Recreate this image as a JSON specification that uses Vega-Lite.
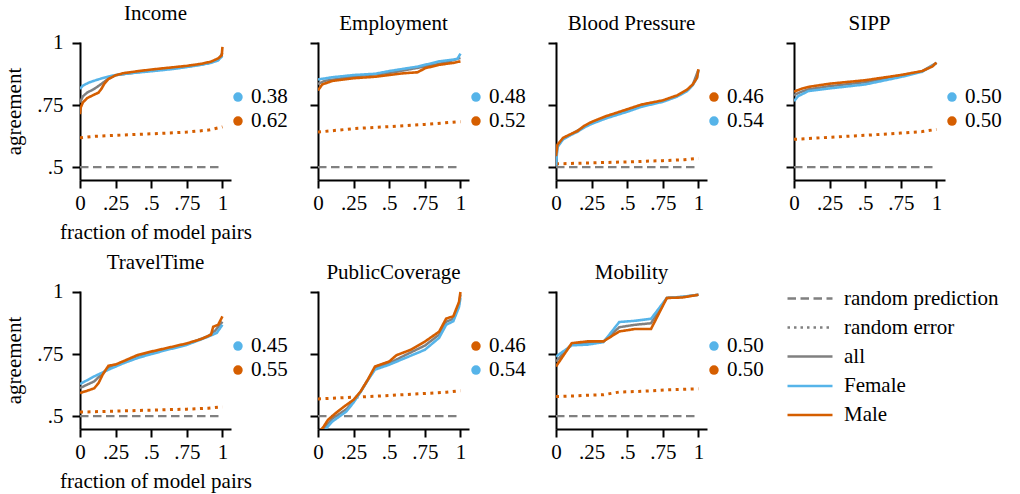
{
  "$schema": "https://vega.github.io/schema/vega-lite/v6.json",
  "background": "white",
  "padding": {"left": 3, "top": 2, "right": 2, "bottom": 2},
  "config": {
    "font": "Liberation Serif",
    "view": {"stroke": null},
    "axis": {
      "grid": false,
      "labelOverlap": false,
      "labelBound": false,
      "domainColor": "#000",
      "domainWidth": 2,
      "tickColor": "#000",
      "tickWidth": 2,
      "tickSize": 8,
      "labelFont": "Liberation Serif",
      "labelFontSize": 21,
      "labelColor": "#000",
      "titleFont": "Liberation Serif",
      "titleFontSize": 21,
      "titleFontWeight": "normal",
      "titleColor": "#000"
    },
    "axisX": {"labelOverlap": false, "labelFlush": false},
    "axisQuantitative": {"labelOverlap": false},
    "title": {"font": "Liberation Serif", "fontSize": 21, "fontWeight": "normal", "color": "#000", "offset": 8, "frame": "group", "anchor": "middle"},
    "legend": {"labelFont": "Liberation Serif", "labelFontSize": 21, "labelColor": "#000", "labelLimit": 400},
    "text": {"font": "Liberation Serif", "fontSize": 21, "color": "#000"}
  },
  "datasets": {
    "curves": [
      {"panel": "Income", "series": "random prediction", "x": 0, "y": 0.5},
      {"panel": "Income", "series": "random prediction", "x": 1, "y": 0.5},
      {"panel": "Income", "series": "all", "x": 0, "y": 0.76},
      {"panel": "Income", "series": "all", "x": 0.02, "y": 0.785},
      {"panel": "Income", "series": "all", "x": 0.05, "y": 0.8},
      {"panel": "Income", "series": "all", "x": 0.1, "y": 0.815},
      {"panel": "Income", "series": "all", "x": 0.15, "y": 0.835},
      {"panel": "Income", "series": "all", "x": 0.2, "y": 0.857},
      {"panel": "Income", "series": "all", "x": 0.25, "y": 0.87},
      {"panel": "Income", "series": "all", "x": 0.5, "y": 0.89},
      {"panel": "Income", "series": "all", "x": 0.75, "y": 0.905},
      {"panel": "Income", "series": "all", "x": 0.9, "y": 0.918},
      {"panel": "Income", "series": "all", "x": 0.97, "y": 0.932},
      {"panel": "Income", "series": "all", "x": 1, "y": 0.96},
      {"panel": "Income", "series": "Female", "x": 0, "y": 0.815},
      {"panel": "Income", "series": "Female", "x": 0.02, "y": 0.828},
      {"panel": "Income", "series": "Female", "x": 0.06, "y": 0.84},
      {"panel": "Income", "series": "Female", "x": 0.1, "y": 0.848},
      {"panel": "Income", "series": "Female", "x": 0.15, "y": 0.857},
      {"panel": "Income", "series": "Female", "x": 0.2, "y": 0.865},
      {"panel": "Income", "series": "Female", "x": 0.25, "y": 0.871},
      {"panel": "Income", "series": "Female", "x": 0.35, "y": 0.878},
      {"panel": "Income", "series": "Female", "x": 0.5, "y": 0.886},
      {"panel": "Income", "series": "Female", "x": 0.65, "y": 0.895},
      {"panel": "Income", "series": "Female", "x": 0.75, "y": 0.903},
      {"panel": "Income", "series": "Female", "x": 0.85, "y": 0.912},
      {"panel": "Income", "series": "Female", "x": 0.92, "y": 0.92},
      {"panel": "Income", "series": "Female", "x": 0.97, "y": 0.93},
      {"panel": "Income", "series": "Female", "x": 1, "y": 0.948},
      {"panel": "Income", "series": "Male", "x": 0, "y": 0.713},
      {"panel": "Income", "series": "Male", "x": 0.005, "y": 0.74},
      {"panel": "Income", "series": "Male", "x": 0.02, "y": 0.76},
      {"panel": "Income", "series": "Male", "x": 0.05, "y": 0.778},
      {"panel": "Income", "series": "Male", "x": 0.1, "y": 0.792},
      {"panel": "Income", "series": "Male", "x": 0.13, "y": 0.8},
      {"panel": "Income", "series": "Male", "x": 0.15, "y": 0.815},
      {"panel": "Income", "series": "Male", "x": 0.17, "y": 0.835},
      {"panel": "Income", "series": "Male", "x": 0.2, "y": 0.855},
      {"panel": "Income", "series": "Male", "x": 0.25, "y": 0.87},
      {"panel": "Income", "series": "Male", "x": 0.3, "y": 0.878},
      {"panel": "Income", "series": "Male", "x": 0.4, "y": 0.886},
      {"panel": "Income", "series": "Male", "x": 0.5, "y": 0.893},
      {"panel": "Income", "series": "Male", "x": 0.6, "y": 0.899},
      {"panel": "Income", "series": "Male", "x": 0.75, "y": 0.908},
      {"panel": "Income", "series": "Male", "x": 0.85, "y": 0.916},
      {"panel": "Income", "series": "Male", "x": 0.92, "y": 0.925},
      {"panel": "Income", "series": "Male", "x": 0.97, "y": 0.938},
      {"panel": "Income", "series": "Male", "x": 0.995, "y": 0.95},
      {"panel": "Income", "series": "Male", "x": 1, "y": 0.984},
      {"panel": "Income", "series": "random error", "x": 0, "y": 0.618},
      {"panel": "Income", "series": "random error", "x": 0.1, "y": 0.624},
      {"panel": "Income", "series": "random error", "x": 0.25, "y": 0.628},
      {"panel": "Income", "series": "random error", "x": 0.5, "y": 0.634},
      {"panel": "Income", "series": "random error", "x": 0.75, "y": 0.641},
      {"panel": "Income", "series": "random error", "x": 0.9, "y": 0.649},
      {"panel": "Income", "series": "random error", "x": 1, "y": 0.662},

      {"panel": "Employment", "series": "random prediction", "x": 0, "y": 0.5},
      {"panel": "Employment", "series": "random prediction", "x": 1, "y": 0.5},
      {"panel": "Employment", "series": "all", "x": 0, "y": 0.835},
      {"panel": "Employment", "series": "all", "x": 0.05, "y": 0.848},
      {"panel": "Employment", "series": "all", "x": 0.25, "y": 0.865},
      {"panel": "Employment", "series": "all", "x": 0.5, "y": 0.879},
      {"panel": "Employment", "series": "all", "x": 0.75, "y": 0.905},
      {"panel": "Employment", "series": "all", "x": 0.9, "y": 0.922},
      {"panel": "Employment", "series": "all", "x": 1, "y": 0.94},
      {"panel": "Employment", "series": "Female", "x": 0, "y": 0.853},
      {"panel": "Employment", "series": "Female", "x": 0.1, "y": 0.862},
      {"panel": "Employment", "series": "Female", "x": 0.25, "y": 0.871},
      {"panel": "Employment", "series": "Female", "x": 0.4, "y": 0.876},
      {"panel": "Employment", "series": "Female", "x": 0.5, "y": 0.887},
      {"panel": "Employment", "series": "Female", "x": 0.6, "y": 0.896},
      {"panel": "Employment", "series": "Female", "x": 0.7, "y": 0.905},
      {"panel": "Employment", "series": "Female", "x": 0.75, "y": 0.912},
      {"panel": "Employment", "series": "Female", "x": 0.85, "y": 0.926},
      {"panel": "Employment", "series": "Female", "x": 0.95, "y": 0.933},
      {"panel": "Employment", "series": "Female", "x": 0.98, "y": 0.937},
      {"panel": "Employment", "series": "Female", "x": 1, "y": 0.957},
      {"panel": "Employment", "series": "Male", "x": 0, "y": 0.809},
      {"panel": "Employment", "series": "Male", "x": 0.03, "y": 0.833},
      {"panel": "Employment", "series": "Male", "x": 0.1, "y": 0.847},
      {"panel": "Employment", "series": "Male", "x": 0.25, "y": 0.858},
      {"panel": "Employment", "series": "Male", "x": 0.4, "y": 0.864},
      {"panel": "Employment", "series": "Male", "x": 0.5, "y": 0.871},
      {"panel": "Employment", "series": "Male", "x": 0.6, "y": 0.878},
      {"panel": "Employment", "series": "Male", "x": 0.7, "y": 0.882},
      {"panel": "Employment", "series": "Male", "x": 0.75, "y": 0.898},
      {"panel": "Employment", "series": "Male", "x": 0.85, "y": 0.912},
      {"panel": "Employment", "series": "Male", "x": 0.95, "y": 0.92},
      {"panel": "Employment", "series": "Male", "x": 1, "y": 0.926},
      {"panel": "Employment", "series": "random error", "x": 0, "y": 0.641},
      {"panel": "Employment", "series": "random error", "x": 0.25, "y": 0.655},
      {"panel": "Employment", "series": "random error", "x": 0.5, "y": 0.663},
      {"panel": "Employment", "series": "random error", "x": 0.75, "y": 0.672},
      {"panel": "Employment", "series": "random error", "x": 1, "y": 0.683},

      {"panel": "Blood Pressure", "series": "random prediction", "x": 0, "y": 0.5},
      {"panel": "Blood Pressure", "series": "random prediction", "x": 1, "y": 0.5},
      {"panel": "Blood Pressure", "series": "all", "x": 0, "y": 0.52},
      {"panel": "Blood Pressure", "series": "all", "x": 0.01, "y": 0.585},
      {"panel": "Blood Pressure", "series": "all", "x": 0.05, "y": 0.615},
      {"panel": "Blood Pressure", "series": "all", "x": 0.1, "y": 0.63},
      {"panel": "Blood Pressure", "series": "all", "x": 0.2, "y": 0.663},
      {"panel": "Blood Pressure", "series": "all", "x": 0.25, "y": 0.678},
      {"panel": "Blood Pressure", "series": "all", "x": 0.35, "y": 0.7},
      {"panel": "Blood Pressure", "series": "all", "x": 0.5, "y": 0.728},
      {"panel": "Blood Pressure", "series": "all", "x": 0.6, "y": 0.748},
      {"panel": "Blood Pressure", "series": "all", "x": 0.75, "y": 0.766},
      {"panel": "Blood Pressure", "series": "all", "x": 0.85, "y": 0.786},
      {"panel": "Blood Pressure", "series": "all", "x": 0.92, "y": 0.809},
      {"panel": "Blood Pressure", "series": "all", "x": 0.96, "y": 0.832},
      {"panel": "Blood Pressure", "series": "all", "x": 1, "y": 0.892},
      {"panel": "Blood Pressure", "series": "Female", "x": 0, "y": 0.505},
      {"panel": "Blood Pressure", "series": "Female", "x": 0.01, "y": 0.58},
      {"panel": "Blood Pressure", "series": "Female", "x": 0.05, "y": 0.612},
      {"panel": "Blood Pressure", "series": "Female", "x": 0.1, "y": 0.628},
      {"panel": "Blood Pressure", "series": "Female", "x": 0.15, "y": 0.642},
      {"panel": "Blood Pressure", "series": "Female", "x": 0.2, "y": 0.66},
      {"panel": "Blood Pressure", "series": "Female", "x": 0.25, "y": 0.674},
      {"panel": "Blood Pressure", "series": "Female", "x": 0.35, "y": 0.696},
      {"panel": "Blood Pressure", "series": "Female", "x": 0.5, "y": 0.723},
      {"panel": "Blood Pressure", "series": "Female", "x": 0.6, "y": 0.743},
      {"panel": "Blood Pressure", "series": "Female", "x": 0.75, "y": 0.763},
      {"panel": "Blood Pressure", "series": "Female", "x": 0.85, "y": 0.784},
      {"panel": "Blood Pressure", "series": "Female", "x": 0.92, "y": 0.806},
      {"panel": "Blood Pressure", "series": "Female", "x": 0.96, "y": 0.83},
      {"panel": "Blood Pressure", "series": "Female", "x": 0.99, "y": 0.86},
      {"panel": "Blood Pressure", "series": "Female", "x": 1, "y": 0.89},
      {"panel": "Blood Pressure", "series": "Male", "x": 0, "y": 0.544},
      {"panel": "Blood Pressure", "series": "Male", "x": 0.01, "y": 0.59},
      {"panel": "Blood Pressure", "series": "Male", "x": 0.05, "y": 0.618},
      {"panel": "Blood Pressure", "series": "Male", "x": 0.1, "y": 0.632},
      {"panel": "Blood Pressure", "series": "Male", "x": 0.15, "y": 0.645},
      {"panel": "Blood Pressure", "series": "Male", "x": 0.2, "y": 0.667},
      {"panel": "Blood Pressure", "series": "Male", "x": 0.25, "y": 0.682},
      {"panel": "Blood Pressure", "series": "Male", "x": 0.35, "y": 0.705},
      {"panel": "Blood Pressure", "series": "Male", "x": 0.5, "y": 0.733},
      {"panel": "Blood Pressure", "series": "Male", "x": 0.6, "y": 0.752},
      {"panel": "Blood Pressure", "series": "Male", "x": 0.75, "y": 0.769},
      {"panel": "Blood Pressure", "series": "Male", "x": 0.85, "y": 0.789},
      {"panel": "Blood Pressure", "series": "Male", "x": 0.92, "y": 0.812},
      {"panel": "Blood Pressure", "series": "Male", "x": 0.96, "y": 0.833},
      {"panel": "Blood Pressure", "series": "Male", "x": 0.99, "y": 0.86},
      {"panel": "Blood Pressure", "series": "Male", "x": 1, "y": 0.894},
      {"panel": "Blood Pressure", "series": "random error", "x": 0, "y": 0.513},
      {"panel": "Blood Pressure", "series": "random error", "x": 0.25, "y": 0.517},
      {"panel": "Blood Pressure", "series": "random error", "x": 0.5, "y": 0.521},
      {"panel": "Blood Pressure", "series": "random error", "x": 0.75, "y": 0.526},
      {"panel": "Blood Pressure", "series": "random error", "x": 0.9, "y": 0.53},
      {"panel": "Blood Pressure", "series": "random error", "x": 1, "y": 0.535},

      {"panel": "SIPP", "series": "random prediction", "x": 0, "y": 0.5},
      {"panel": "SIPP", "series": "random prediction", "x": 1, "y": 0.5},
      {"panel": "SIPP", "series": "all", "x": 0, "y": 0.79},
      {"panel": "SIPP", "series": "all", "x": 0.05, "y": 0.803},
      {"panel": "SIPP", "series": "all", "x": 0.1, "y": 0.813},
      {"panel": "SIPP", "series": "all", "x": 0.25, "y": 0.826},
      {"panel": "SIPP", "series": "all", "x": 0.5, "y": 0.842},
      {"panel": "SIPP", "series": "all", "x": 0.75, "y": 0.867},
      {"panel": "SIPP", "series": "all", "x": 0.9, "y": 0.886},
      {"panel": "SIPP", "series": "all", "x": 1, "y": 0.92},
      {"panel": "SIPP", "series": "Female", "x": 0, "y": 0.766},
      {"panel": "SIPP", "series": "Female", "x": 0.03, "y": 0.786},
      {"panel": "SIPP", "series": "Female", "x": 0.1, "y": 0.806},
      {"panel": "SIPP", "series": "Female", "x": 0.25, "y": 0.817},
      {"panel": "SIPP", "series": "Female", "x": 0.5, "y": 0.833},
      {"panel": "SIPP", "series": "Female", "x": 0.6, "y": 0.845},
      {"panel": "SIPP", "series": "Female", "x": 0.75, "y": 0.863},
      {"panel": "SIPP", "series": "Female", "x": 0.9, "y": 0.884},
      {"panel": "SIPP", "series": "Female", "x": 0.98, "y": 0.911},
      {"panel": "SIPP", "series": "Female", "x": 1, "y": 0.92},
      {"panel": "SIPP", "series": "Male", "x": 0, "y": 0.804},
      {"panel": "SIPP", "series": "Male", "x": 0.05, "y": 0.815},
      {"panel": "SIPP", "series": "Male", "x": 0.1, "y": 0.823},
      {"panel": "SIPP", "series": "Male", "x": 0.25, "y": 0.836},
      {"panel": "SIPP", "series": "Male", "x": 0.5, "y": 0.85},
      {"panel": "SIPP", "series": "Male", "x": 0.75, "y": 0.871},
      {"panel": "SIPP", "series": "Male", "x": 0.9, "y": 0.887},
      {"panel": "SIPP", "series": "Male", "x": 0.97, "y": 0.905},
      {"panel": "SIPP", "series": "Male", "x": 1, "y": 0.921},
      {"panel": "SIPP", "series": "random error", "x": 0, "y": 0.612},
      {"panel": "SIPP", "series": "random error", "x": 0.25, "y": 0.62},
      {"panel": "SIPP", "series": "random error", "x": 0.5, "y": 0.628},
      {"panel": "SIPP", "series": "random error", "x": 0.75, "y": 0.637},
      {"panel": "SIPP", "series": "random error", "x": 0.9, "y": 0.643},
      {"panel": "SIPP", "series": "random error", "x": 1, "y": 0.652},

      {"panel": "TravelTime", "series": "random prediction", "x": 0, "y": 0.5},
      {"panel": "TravelTime", "series": "random prediction", "x": 1, "y": 0.5},
      {"panel": "TravelTime", "series": "all", "x": 0, "y": 0.613},
      {"panel": "TravelTime", "series": "all", "x": 0.1, "y": 0.64},
      {"panel": "TravelTime", "series": "all", "x": 0.2, "y": 0.695},
      {"panel": "TravelTime", "series": "all", "x": 0.3, "y": 0.716},
      {"panel": "TravelTime", "series": "all", "x": 0.5, "y": 0.755},
      {"panel": "TravelTime", "series": "all", "x": 0.75, "y": 0.79},
      {"panel": "TravelTime", "series": "all", "x": 0.9, "y": 0.822},
      {"panel": "TravelTime", "series": "all", "x": 0.95, "y": 0.845},
      {"panel": "TravelTime", "series": "all", "x": 1, "y": 0.88},
      {"panel": "TravelTime", "series": "Female", "x": 0, "y": 0.629},
      {"panel": "TravelTime", "series": "Female", "x": 0.1, "y": 0.66},
      {"panel": "TravelTime", "series": "Female", "x": 0.2, "y": 0.687},
      {"panel": "TravelTime", "series": "Female", "x": 0.3, "y": 0.712},
      {"panel": "TravelTime", "series": "Female", "x": 0.4, "y": 0.733},
      {"panel": "TravelTime", "series": "Female", "x": 0.5, "y": 0.75},
      {"panel": "TravelTime", "series": "Female", "x": 0.6, "y": 0.765},
      {"panel": "TravelTime", "series": "Female", "x": 0.75, "y": 0.787},
      {"panel": "TravelTime", "series": "Female", "x": 0.9, "y": 0.82},
      {"panel": "TravelTime", "series": "Female", "x": 0.96, "y": 0.835},
      {"panel": "TravelTime", "series": "Female", "x": 1, "y": 0.868},
      {"panel": "TravelTime", "series": "Male", "x": 0, "y": 0.593},
      {"panel": "TravelTime", "series": "Male", "x": 0.05, "y": 0.602},
      {"panel": "TravelTime", "series": "Male", "x": 0.1, "y": 0.612},
      {"panel": "TravelTime", "series": "Male", "x": 0.13, "y": 0.633},
      {"panel": "TravelTime", "series": "Male", "x": 0.16, "y": 0.668},
      {"panel": "TravelTime", "series": "Male", "x": 0.2, "y": 0.703},
      {"panel": "TravelTime", "series": "Male", "x": 0.25, "y": 0.708},
      {"panel": "TravelTime", "series": "Male", "x": 0.3, "y": 0.72},
      {"panel": "TravelTime", "series": "Male", "x": 0.4, "y": 0.745},
      {"panel": "TravelTime", "series": "Male", "x": 0.5, "y": 0.76},
      {"panel": "TravelTime", "series": "Male", "x": 0.6, "y": 0.773},
      {"panel": "TravelTime", "series": "Male", "x": 0.75, "y": 0.793},
      {"panel": "TravelTime", "series": "Male", "x": 0.85, "y": 0.81},
      {"panel": "TravelTime", "series": "Male", "x": 0.92, "y": 0.828},
      {"panel": "TravelTime", "series": "Male", "x": 0.935, "y": 0.86},
      {"panel": "TravelTime", "series": "Male", "x": 0.97, "y": 0.868},
      {"panel": "TravelTime", "series": "Male", "x": 1, "y": 0.902},
      {"panel": "TravelTime", "series": "random error", "x": 0, "y": 0.516},
      {"panel": "TravelTime", "series": "random error", "x": 0.25, "y": 0.52},
      {"panel": "TravelTime", "series": "random error", "x": 0.5, "y": 0.524},
      {"panel": "TravelTime", "series": "random error", "x": 0.75, "y": 0.528},
      {"panel": "TravelTime", "series": "random error", "x": 0.9, "y": 0.532},
      {"panel": "TravelTime", "series": "random error", "x": 1, "y": 0.537},

      {"panel": "PublicCoverage", "series": "random prediction", "x": 0, "y": 0.5},
      {"panel": "PublicCoverage", "series": "random prediction", "x": 1, "y": 0.5},
      {"panel": "PublicCoverage", "series": "all", "x": 0.02, "y": 0.43},
      {"panel": "PublicCoverage", "series": "all", "x": 0.05, "y": 0.455},
      {"panel": "PublicCoverage", "series": "all", "x": 0.1, "y": 0.49},
      {"panel": "PublicCoverage", "series": "all", "x": 0.2, "y": 0.528},
      {"panel": "PublicCoverage", "series": "all", "x": 0.25, "y": 0.56},
      {"panel": "PublicCoverage", "series": "all", "x": 0.3, "y": 0.599},
      {"panel": "PublicCoverage", "series": "all", "x": 0.35, "y": 0.646},
      {"panel": "PublicCoverage", "series": "all", "x": 0.4, "y": 0.694},
      {"panel": "PublicCoverage", "series": "all", "x": 0.5, "y": 0.713},
      {"panel": "PublicCoverage", "series": "all", "x": 0.6, "y": 0.742},
      {"panel": "PublicCoverage", "series": "all", "x": 0.75, "y": 0.784},
      {"panel": "PublicCoverage", "series": "all", "x": 0.85, "y": 0.828},
      {"panel": "PublicCoverage", "series": "all", "x": 0.9, "y": 0.88},
      {"panel": "PublicCoverage", "series": "all", "x": 0.95, "y": 0.892},
      {"panel": "PublicCoverage", "series": "all", "x": 0.99, "y": 0.95},
      {"panel": "PublicCoverage", "series": "all", "x": 1, "y": 0.99},
      {"panel": "PublicCoverage", "series": "Female", "x": 0.04, "y": 0.43},
      {"panel": "PublicCoverage", "series": "Female", "x": 0.06, "y": 0.452},
      {"panel": "PublicCoverage", "series": "Female", "x": 0.1, "y": 0.478},
      {"panel": "PublicCoverage", "series": "Female", "x": 0.2, "y": 0.519},
      {"panel": "PublicCoverage", "series": "Female", "x": 0.25, "y": 0.555},
      {"panel": "PublicCoverage", "series": "Female", "x": 0.3, "y": 0.598},
      {"panel": "PublicCoverage", "series": "Female", "x": 0.35, "y": 0.645},
      {"panel": "PublicCoverage", "series": "Female", "x": 0.4, "y": 0.687},
      {"panel": "PublicCoverage", "series": "Female", "x": 0.5, "y": 0.707},
      {"panel": "PublicCoverage", "series": "Female", "x": 0.6, "y": 0.731},
      {"panel": "PublicCoverage", "series": "Female", "x": 0.75, "y": 0.767},
      {"panel": "PublicCoverage", "series": "Female", "x": 0.85, "y": 0.815},
      {"panel": "PublicCoverage", "series": "Female", "x": 0.9, "y": 0.868},
      {"panel": "PublicCoverage", "series": "Female", "x": 0.95, "y": 0.882},
      {"panel": "PublicCoverage", "series": "Female", "x": 0.99, "y": 0.94},
      {"panel": "PublicCoverage", "series": "Female", "x": 1, "y": 0.976},
      {"panel": "PublicCoverage", "series": "Male", "x": 0, "y": 0.43},
      {"panel": "PublicCoverage", "series": "Male", "x": 0.04, "y": 0.458},
      {"panel": "PublicCoverage", "series": "Male", "x": 0.07, "y": 0.485},
      {"panel": "PublicCoverage", "series": "Male", "x": 0.12, "y": 0.51},
      {"panel": "PublicCoverage", "series": "Male", "x": 0.18, "y": 0.537},
      {"panel": "PublicCoverage", "series": "Male", "x": 0.25, "y": 0.566},
      {"panel": "PublicCoverage", "series": "Male", "x": 0.3, "y": 0.6},
      {"panel": "PublicCoverage", "series": "Male", "x": 0.35, "y": 0.647},
      {"panel": "PublicCoverage", "series": "Male", "x": 0.4, "y": 0.7},
      {"panel": "PublicCoverage", "series": "Male", "x": 0.5, "y": 0.72},
      {"panel": "PublicCoverage", "series": "Male", "x": 0.55, "y": 0.745},
      {"panel": "PublicCoverage", "series": "Male", "x": 0.65, "y": 0.767},
      {"panel": "PublicCoverage", "series": "Male", "x": 0.75, "y": 0.8},
      {"panel": "PublicCoverage", "series": "Male", "x": 0.85, "y": 0.84},
      {"panel": "PublicCoverage", "series": "Male", "x": 0.9, "y": 0.893},
      {"panel": "PublicCoverage", "series": "Male", "x": 0.95, "y": 0.902},
      {"panel": "PublicCoverage", "series": "Male", "x": 0.99, "y": 0.96},
      {"panel": "PublicCoverage", "series": "Male", "x": 1, "y": 1.0},
      {"panel": "PublicCoverage", "series": "random error", "x": 0, "y": 0.569},
      {"panel": "PublicCoverage", "series": "random error", "x": 0.25, "y": 0.576},
      {"panel": "PublicCoverage", "series": "random error", "x": 0.5, "y": 0.583},
      {"panel": "PublicCoverage", "series": "random error", "x": 0.75, "y": 0.591},
      {"panel": "PublicCoverage", "series": "random error", "x": 0.9, "y": 0.596},
      {"panel": "PublicCoverage", "series": "random error", "x": 1, "y": 0.602},

      {"panel": "Mobility", "series": "random prediction", "x": 0, "y": 0.5},
      {"panel": "Mobility", "series": "random prediction", "x": 1, "y": 0.5},
      {"panel": "Mobility", "series": "all", "x": 0, "y": 0.72},
      {"panel": "Mobility", "series": "all", "x": 0.111, "y": 0.79},
      {"panel": "Mobility", "series": "all", "x": 0.222, "y": 0.795},
      {"panel": "Mobility", "series": "all", "x": 0.333, "y": 0.8},
      {"panel": "Mobility", "series": "all", "x": 0.444, "y": 0.858},
      {"panel": "Mobility", "series": "all", "x": 0.556, "y": 0.868},
      {"panel": "Mobility", "series": "all", "x": 0.667, "y": 0.874},
      {"panel": "Mobility", "series": "all", "x": 0.778, "y": 0.976},
      {"panel": "Mobility", "series": "all", "x": 0.889, "y": 0.98},
      {"panel": "Mobility", "series": "all", "x": 1, "y": 0.989},
      {"panel": "Mobility", "series": "Female", "x": 0, "y": 0.74},
      {"panel": "Mobility", "series": "Female", "x": 0.111, "y": 0.785},
      {"panel": "Mobility", "series": "Female", "x": 0.222, "y": 0.788},
      {"panel": "Mobility", "series": "Female", "x": 0.333, "y": 0.798},
      {"panel": "Mobility", "series": "Female", "x": 0.444, "y": 0.879},
      {"panel": "Mobility", "series": "Female", "x": 0.556, "y": 0.884},
      {"panel": "Mobility", "series": "Female", "x": 0.667, "y": 0.892},
      {"panel": "Mobility", "series": "Female", "x": 0.778, "y": 0.976},
      {"panel": "Mobility", "series": "Female", "x": 0.889, "y": 0.981},
      {"panel": "Mobility", "series": "Female", "x": 1, "y": 0.989},
      {"panel": "Mobility", "series": "Male", "x": 0, "y": 0.7},
      {"panel": "Mobility", "series": "Male", "x": 0.111, "y": 0.794},
      {"panel": "Mobility", "series": "Male", "x": 0.222, "y": 0.801},
      {"panel": "Mobility", "series": "Male", "x": 0.333, "y": 0.801},
      {"panel": "Mobility", "series": "Male", "x": 0.444, "y": 0.841},
      {"panel": "Mobility", "series": "Male", "x": 0.556, "y": 0.851},
      {"panel": "Mobility", "series": "Male", "x": 0.667, "y": 0.851},
      {"panel": "Mobility", "series": "Male", "x": 0.778, "y": 0.976},
      {"panel": "Mobility", "series": "Male", "x": 0.889, "y": 0.978},
      {"panel": "Mobility", "series": "Male", "x": 1, "y": 0.989},
      {"panel": "Mobility", "series": "random error", "x": 0, "y": 0.579},
      {"panel": "Mobility", "series": "random error", "x": 0.111, "y": 0.581},
      {"panel": "Mobility", "series": "random error", "x": 0.222, "y": 0.584},
      {"panel": "Mobility", "series": "random error", "x": 0.333, "y": 0.586},
      {"panel": "Mobility", "series": "random error", "x": 0.444, "y": 0.597},
      {"panel": "Mobility", "series": "random error", "x": 0.556, "y": 0.599},
      {"panel": "Mobility", "series": "random error", "x": 0.667, "y": 0.602},
      {"panel": "Mobility", "series": "random error", "x": 0.778, "y": 0.606},
      {"panel": "Mobility", "series": "random error", "x": 0.889, "y": 0.608},
      {"panel": "Mobility", "series": "random error", "x": 1, "y": 0.61}
    ],
    "notes": [
      {"panel": "Income", "row": 0, "series": "Female", "share": 0.38},
      {"panel": "Income", "row": 1, "series": "Male", "share": 0.62},
      {"panel": "Employment", "row": 0, "series": "Female", "share": 0.48},
      {"panel": "Employment", "row": 1, "series": "Male", "share": 0.52},
      {"panel": "Blood Pressure", "row": 0, "series": "Male", "share": 0.46},
      {"panel": "Blood Pressure", "row": 1, "series": "Female", "share": 0.54},
      {"panel": "SIPP", "row": 0, "series": "Female", "share": 0.5},
      {"panel": "SIPP", "row": 1, "series": "Male", "share": 0.5},
      {"panel": "TravelTime", "row": 0, "series": "Female", "share": 0.45},
      {"panel": "TravelTime", "row": 1, "series": "Male", "share": 0.55},
      {"panel": "PublicCoverage", "row": 0, "series": "Male", "share": 0.46},
      {"panel": "PublicCoverage", "row": 1, "series": "Female", "share": 0.54},
      {"panel": "Mobility", "row": 0, "series": "Female", "share": 0.5},
      {"panel": "Mobility", "row": 1, "series": "Male", "share": 0.5}
    ]
  },
  "columns": 4,
  "spacing": {"row": 111, "column": 87},
  "bounds": "flush",
  "concat": [
    {
      "title": "Income", "width": 151, "height": 138,
      "data": {"name": "curves"},
      "layer": [
        {"transform": [{"filter": "datum.panel === 'Income' && datum.series === 'random error'"}],
         "mark": {"type": "line", "clip": true, "color": "#D55E00", "strokeDash": [3, 4.5], "strokeWidth": 3},
         "encoding": {
           "x": {"field": "x", "type": "quantitative", "scale": {"domain": [0, 1.06], "nice": false, "zero": false}, "axis": {"values": [0, 0.25, 0.5, 0.75, 1], "format": ".2~f", "labelExpr": "replace(datum.label, '0.', '.')", "labelOverlap": false, "labelFlush": false, "labelPadding": 4, "title": "fraction of model pairs", "titlePadding": 8}},
           "y": {"field": "y", "type": "quantitative", "scale": {"domain": [0.448, 1.004], "nice": false, "zero": false}, "axis": {"values": [0.5, 0.75, 1], "format": ".2~f", "labelExpr": "replace(datum.label, '0.', '.')", "labelOverlap": false, "labelPadding": 9, "title": "agreement", "titlePadding": 12}}
         }},
        {"transform": [{"filter": "datum.panel === 'Income' && datum.series !== 'random error'"}],
         "mark": {"type": "line", "clip": true},
         "encoding": {
           "x": {"field": "x", "type": "quantitative", "scale": {"domain": [0, 1.06], "nice": false, "zero": false}, "axis": {"values": [0, 0.25, 0.5, 0.75, 1], "format": ".2~f", "labelExpr": "replace(datum.label, '0.', '.')", "labelOverlap": false, "labelFlush": false, "labelPadding": 4, "title": "fraction of model pairs", "titlePadding": 8}},
           "y": {"field": "y", "type": "quantitative", "scale": {"domain": [0.448, 1.004], "nice": false, "zero": false}, "axis": {"values": [0.5, 0.75, 1], "format": ".2~f", "labelExpr": "replace(datum.label, '0.', '.')", "labelOverlap": false, "labelPadding": 9, "title": "agreement", "titlePadding": 12}},
           "color": {"field": "series", "type": "nominal", "scale": {"domain": ["random prediction", "random error", "all", "Female", "Male"], "range": ["#808080", "#808080", "#808080", "#56B4E9", "#D55E00"]}, "legend": {"title": null, "orient": "none", "legendX": 717, "legendY": 244, "symbolType": "M-2,0H2", "symbolSize": 506, "labelOffset": 21, "rowPadding": 6}},
           "strokeDash": {"field": "series", "type": "nominal", "scale": {"domain": ["random prediction", "random error", "all", "Female", "Male"], "range": [[8.5, 4.5], [2.5, 4], [1, 0], [1, 0], [1, 0]]}, "legend": {"title": null, "orient": "none", "legendX": 717, "legendY": 244, "symbolType": "M-2,0H2", "symbolSize": 506, "labelOffset": 21, "rowPadding": 6}},
           "strokeWidth": {"field": "series", "type": "nominal", "scale": {"domain": ["random prediction", "random error", "all", "Female", "Male"], "range": [2.4, 2.6, 4, 3, 3]}, "legend": {"title": null, "orient": "none", "legendX": 717, "legendY": 244, "symbolType": "M-2,0H2", "symbolSize": 506, "labelOffset": 21, "rowPadding": 6}}
         }},
        {"data": {"name": "notes"}, "transform": [{"filter": "datum.panel === 'Income' && datum.row === 0"}],
         "encoding": {"x": {"datum": 1.109, "type": "quantitative", "scale": {"domain": [0, 1.06], "nice": false, "zero": false}, "axis": {"values": [0, 0.25, 0.5, 0.75, 1], "format": ".2~f", "labelExpr": "replace(datum.label, '0.', '.')", "labelOverlap": false, "labelFlush": false, "labelPadding": 4, "title": "fraction of model pairs", "titlePadding": 8}}, "y": {"datum": 0.782, "type": "quantitative", "scale": {"domain": [0.448, 1.004], "nice": false, "zero": false}, "axis": {"values": [0.5, 0.75, 1], "format": ".2~f", "labelExpr": "replace(datum.label, '0.', '.')", "labelOverlap": false, "labelPadding": 9, "title": "agreement", "titlePadding": 12}}},
         "layer": [
           {"mark": {"type": "circle", "size": 90, "opacity": 1}, "encoding": {"color": {"field": "series", "type": "nominal", "scale": {"domain": ["random prediction", "random error", "all", "Female", "Male"], "range": ["#808080", "#808080", "#808080", "#56B4E9", "#D55E00"]}, "legend": null}}},
           {"mark": {"type": "text", "align": "left", "baseline": "middle", "dx": 13, "font": "Liberation Serif", "fontSize": 21, "color": "#000"}, "encoding": {"text": {"field": "share", "type": "quantitative", "format": ".2f"}}}
         ]},
        {"data": {"name": "notes"}, "transform": [{"filter": "datum.panel === 'Income' && datum.row === 1"}],
         "encoding": {"x": {"datum": 1.109, "type": "quantitative", "scale": {"domain": [0, 1.06], "nice": false, "zero": false}, "axis": {"values": [0, 0.25, 0.5, 0.75, 1], "format": ".2~f", "labelExpr": "replace(datum.label, '0.', '.')", "labelOverlap": false, "labelFlush": false, "labelPadding": 4, "title": "fraction of model pairs", "titlePadding": 8}}, "y": {"datum": 0.6855, "type": "quantitative", "scale": {"domain": [0.448, 1.004], "nice": false, "zero": false}, "axis": {"values": [0.5, 0.75, 1], "format": ".2~f", "labelExpr": "replace(datum.label, '0.', '.')", "labelOverlap": false, "labelPadding": 9, "title": "agreement", "titlePadding": 12}}},
         "layer": [
           {"mark": {"type": "circle", "size": 90, "opacity": 1}, "encoding": {"color": {"field": "series", "type": "nominal", "scale": {"domain": ["random prediction", "random error", "all", "Female", "Male"], "range": ["#808080", "#808080", "#808080", "#56B4E9", "#D55E00"]}, "legend": null}}},
           {"mark": {"type": "text", "align": "left", "baseline": "middle", "dx": 13, "font": "Liberation Serif", "fontSize": 21, "color": "#000"}, "encoding": {"text": {"field": "share", "type": "quantitative", "format": ".2f"}}}
         ]}
      ]
    },
    {
      "title": "Employment", "width": 151, "height": 138,
      "data": {"name": "curves"},
      "layer": [
        {"transform": [{"filter": "datum.panel === 'Employment' && datum.series === 'random error'"}],
         "mark": {"type": "line", "clip": true, "color": "#D55E00", "strokeDash": [3, 4.5], "strokeWidth": 3},
         "encoding": {
           "x": {"field": "x", "type": "quantitative", "scale": {"domain": [0, 1.06], "nice": false, "zero": false}, "axis": {"values": [0, 0.25, 0.5, 0.75, 1], "format": ".2~f", "labelExpr": "replace(datum.label, '0.', '.')", "labelOverlap": false, "labelFlush": false, "labelPadding": 4, "title": null}},
           "y": {"field": "y", "type": "quantitative", "scale": {"domain": [0.448, 1.004], "nice": false, "zero": false}, "axis": {"values": [0.5, 0.75, 1], "labels": false, "title": null}}
         }},
        {"transform": [{"filter": "datum.panel === 'Employment' && datum.series !== 'random error'"}],
         "mark": {"type": "line", "clip": true},
         "encoding": {
           "x": {"field": "x", "type": "quantitative", "scale": {"domain": [0, 1.06], "nice": false, "zero": false}, "axis": {"values": [0, 0.25, 0.5, 0.75, 1], "format": ".2~f", "labelExpr": "replace(datum.label, '0.', '.')", "labelOverlap": false, "labelFlush": false, "labelPadding": 4, "title": null}},
           "y": {"field": "y", "type": "quantitative", "scale": {"domain": [0.448, 1.004], "nice": false, "zero": false}, "axis": {"values": [0.5, 0.75, 1], "labels": false, "title": null}},
           "color": {"field": "series", "type": "nominal", "scale": {"domain": ["random prediction", "random error", "all", "Female", "Male"], "range": ["#808080", "#808080", "#808080", "#56B4E9", "#D55E00"]}, "legend": {"title": null, "orient": "none", "legendX": 717, "legendY": 244, "symbolType": "M-2,0H2", "symbolSize": 506, "labelOffset": 21, "rowPadding": 6}},
           "strokeDash": {"field": "series", "type": "nominal", "scale": {"domain": ["random prediction", "random error", "all", "Female", "Male"], "range": [[8.5, 4.5], [2.5, 4], [1, 0], [1, 0], [1, 0]]}, "legend": {"title": null, "orient": "none", "legendX": 717, "legendY": 244, "symbolType": "M-2,0H2", "symbolSize": 506, "labelOffset": 21, "rowPadding": 6}},
           "strokeWidth": {"field": "series", "type": "nominal", "scale": {"domain": ["random prediction", "random error", "all", "Female", "Male"], "range": [2.4, 2.6, 4, 3, 3]}, "legend": {"title": null, "orient": "none", "legendX": 717, "legendY": 244, "symbolType": "M-2,0H2", "symbolSize": 506, "labelOffset": 21, "rowPadding": 6}}
         }},
        {"data": {"name": "notes"}, "transform": [{"filter": "datum.panel === 'Employment' && datum.row === 0"}],
         "encoding": {"x": {"datum": 1.109, "type": "quantitative", "scale": {"domain": [0, 1.06], "nice": false, "zero": false}, "axis": {"values": [0, 0.25, 0.5, 0.75, 1], "format": ".2~f", "labelExpr": "replace(datum.label, '0.', '.')", "labelOverlap": false, "labelFlush": false, "labelPadding": 4, "title": null}}, "y": {"datum": 0.782, "type": "quantitative", "scale": {"domain": [0.448, 1.004], "nice": false, "zero": false}, "axis": {"values": [0.5, 0.75, 1], "labels": false, "title": null}}},
         "layer": [
           {"mark": {"type": "circle", "size": 90, "opacity": 1}, "encoding": {"color": {"field": "series", "type": "nominal", "scale": {"domain": ["random prediction", "random error", "all", "Female", "Male"], "range": ["#808080", "#808080", "#808080", "#56B4E9", "#D55E00"]}, "legend": null}}},
           {"mark": {"type": "text", "align": "left", "baseline": "middle", "dx": 13, "font": "Liberation Serif", "fontSize": 21, "color": "#000"}, "encoding": {"text": {"field": "share", "type": "quantitative", "format": ".2f"}}}
         ]},
        {"data": {"name": "notes"}, "transform": [{"filter": "datum.panel === 'Employment' && datum.row === 1"}],
         "encoding": {"x": {"datum": 1.109, "type": "quantitative", "scale": {"domain": [0, 1.06], "nice": false, "zero": false}, "axis": {"values": [0, 0.25, 0.5, 0.75, 1], "format": ".2~f", "labelExpr": "replace(datum.label, '0.', '.')", "labelOverlap": false, "labelFlush": false, "labelPadding": 4, "title": null}}, "y": {"datum": 0.6855, "type": "quantitative", "scale": {"domain": [0.448, 1.004], "nice": false, "zero": false}, "axis": {"values": [0.5, 0.75, 1], "labels": false, "title": null}}},
         "layer": [
           {"mark": {"type": "circle", "size": 90, "opacity": 1}, "encoding": {"color": {"field": "series", "type": "nominal", "scale": {"domain": ["random prediction", "random error", "all", "Female", "Male"], "range": ["#808080", "#808080", "#808080", "#56B4E9", "#D55E00"]}, "legend": null}}},
           {"mark": {"type": "text", "align": "left", "baseline": "middle", "dx": 13, "font": "Liberation Serif", "fontSize": 21, "color": "#000"}, "encoding": {"text": {"field": "share", "type": "quantitative", "format": ".2f"}}}
         ]}
      ]
    },
    {
      "title": "Blood Pressure", "width": 151, "height": 138,
      "data": {"name": "curves"},
      "layer": [
        {"transform": [{"filter": "datum.panel === 'Blood Pressure' && datum.series === 'random error'"}],
         "mark": {"type": "line", "clip": true, "color": "#D55E00", "strokeDash": [3, 4.5], "strokeWidth": 3},
         "encoding": {
           "x": {"field": "x", "type": "quantitative", "scale": {"domain": [0, 1.06], "nice": false, "zero": false}, "axis": {"values": [0, 0.25, 0.5, 0.75, 1], "format": ".2~f", "labelExpr": "replace(datum.label, '0.', '.')", "labelOverlap": false, "labelFlush": false, "labelPadding": 4, "title": null}},
           "y": {"field": "y", "type": "quantitative", "scale": {"domain": [0.448, 1.004], "nice": false, "zero": false}, "axis": {"values": [0.5, 0.75, 1], "labels": false, "title": null}}
         }},
        {"transform": [{"filter": "datum.panel === 'Blood Pressure' && datum.series !== 'random error'"}],
         "mark": {"type": "line", "clip": true},
         "encoding": {
           "x": {"field": "x", "type": "quantitative", "scale": {"domain": [0, 1.06], "nice": false, "zero": false}, "axis": {"values": [0, 0.25, 0.5, 0.75, 1], "format": ".2~f", "labelExpr": "replace(datum.label, '0.', '.')", "labelOverlap": false, "labelFlush": false, "labelPadding": 4, "title": null}},
           "y": {"field": "y", "type": "quantitative", "scale": {"domain": [0.448, 1.004], "nice": false, "zero": false}, "axis": {"values": [0.5, 0.75, 1], "labels": false, "title": null}},
           "color": {"field": "series", "type": "nominal", "scale": {"domain": ["random prediction", "random error", "all", "Female", "Male"], "range": ["#808080", "#808080", "#808080", "#56B4E9", "#D55E00"]}, "legend": {"title": null, "orient": "none", "legendX": 717, "legendY": 244, "symbolType": "M-2,0H2", "symbolSize": 506, "labelOffset": 21, "rowPadding": 6}},
           "strokeDash": {"field": "series", "type": "nominal", "scale": {"domain": ["random prediction", "random error", "all", "Female", "Male"], "range": [[8.5, 4.5], [2.5, 4], [1, 0], [1, 0], [1, 0]]}, "legend": {"title": null, "orient": "none", "legendX": 717, "legendY": 244, "symbolType": "M-2,0H2", "symbolSize": 506, "labelOffset": 21, "rowPadding": 6}},
           "strokeWidth": {"field": "series", "type": "nominal", "scale": {"domain": ["random prediction", "random error", "all", "Female", "Male"], "range": [2.4, 2.6, 4, 3, 3]}, "legend": {"title": null, "orient": "none", "legendX": 717, "legendY": 244, "symbolType": "M-2,0H2", "symbolSize": 506, "labelOffset": 21, "rowPadding": 6}}
         }},
        {"data": {"name": "notes"}, "transform": [{"filter": "datum.panel === 'Blood Pressure' && datum.row === 0"}],
         "encoding": {"x": {"datum": 1.109, "type": "quantitative", "scale": {"domain": [0, 1.06], "nice": false, "zero": false}, "axis": {"values": [0, 0.25, 0.5, 0.75, 1], "format": ".2~f", "labelExpr": "replace(datum.label, '0.', '.')", "labelOverlap": false, "labelFlush": false, "labelPadding": 4, "title": null}}, "y": {"datum": 0.782, "type": "quantitative", "scale": {"domain": [0.448, 1.004], "nice": false, "zero": false}, "axis": {"values": [0.5, 0.75, 1], "labels": false, "title": null}}},
         "layer": [
           {"mark": {"type": "circle", "size": 90, "opacity": 1}, "encoding": {"color": {"field": "series", "type": "nominal", "scale": {"domain": ["random prediction", "random error", "all", "Female", "Male"], "range": ["#808080", "#808080", "#808080", "#56B4E9", "#D55E00"]}, "legend": null}}},
           {"mark": {"type": "text", "align": "left", "baseline": "middle", "dx": 13, "font": "Liberation Serif", "fontSize": 21, "color": "#000"}, "encoding": {"text": {"field": "share", "type": "quantitative", "format": ".2f"}}}
         ]},
        {"data": {"name": "notes"}, "transform": [{"filter": "datum.panel === 'Blood Pressure' && datum.row === 1"}],
         "encoding": {"x": {"datum": 1.109, "type": "quantitative", "scale": {"domain": [0, 1.06], "nice": false, "zero": false}, "axis": {"values": [0, 0.25, 0.5, 0.75, 1], "format": ".2~f", "labelExpr": "replace(datum.label, '0.', '.')", "labelOverlap": false, "labelFlush": false, "labelPadding": 4, "title": null}}, "y": {"datum": 0.6855, "type": "quantitative", "scale": {"domain": [0.448, 1.004], "nice": false, "zero": false}, "axis": {"values": [0.5, 0.75, 1], "labels": false, "title": null}}},
         "layer": [
           {"mark": {"type": "circle", "size": 90, "opacity": 1}, "encoding": {"color": {"field": "series", "type": "nominal", "scale": {"domain": ["random prediction", "random error", "all", "Female", "Male"], "range": ["#808080", "#808080", "#808080", "#56B4E9", "#D55E00"]}, "legend": null}}},
           {"mark": {"type": "text", "align": "left", "baseline": "middle", "dx": 13, "font": "Liberation Serif", "fontSize": 21, "color": "#000"}, "encoding": {"text": {"field": "share", "type": "quantitative", "format": ".2f"}}}
         ]}
      ]
    },
    {
      "title": "SIPP", "width": 151, "height": 138,
      "data": {"name": "curves"},
      "layer": [
        {"transform": [{"filter": "datum.panel === 'SIPP' && datum.series === 'random error'"}],
         "mark": {"type": "line", "clip": true, "color": "#D55E00", "strokeDash": [3, 4.5], "strokeWidth": 3},
         "encoding": {
           "x": {"field": "x", "type": "quantitative", "scale": {"domain": [0, 1.06], "nice": false, "zero": false}, "axis": {"values": [0, 0.25, 0.5, 0.75, 1], "format": ".2~f", "labelExpr": "replace(datum.label, '0.', '.')", "labelOverlap": false, "labelFlush": false, "labelPadding": 4, "title": null}},
           "y": {"field": "y", "type": "quantitative", "scale": {"domain": [0.448, 1.004], "nice": false, "zero": false}, "axis": {"values": [0.5, 0.75, 1], "labels": false, "title": null}}
         }},
        {"transform": [{"filter": "datum.panel === 'SIPP' && datum.series !== 'random error'"}],
         "mark": {"type": "line", "clip": true},
         "encoding": {
           "x": {"field": "x", "type": "quantitative", "scale": {"domain": [0, 1.06], "nice": false, "zero": false}, "axis": {"values": [0, 0.25, 0.5, 0.75, 1], "format": ".2~f", "labelExpr": "replace(datum.label, '0.', '.')", "labelOverlap": false, "labelFlush": false, "labelPadding": 4, "title": null}},
           "y": {"field": "y", "type": "quantitative", "scale": {"domain": [0.448, 1.004], "nice": false, "zero": false}, "axis": {"values": [0.5, 0.75, 1], "labels": false, "title": null}},
           "color": {"field": "series", "type": "nominal", "scale": {"domain": ["random prediction", "random error", "all", "Female", "Male"], "range": ["#808080", "#808080", "#808080", "#56B4E9", "#D55E00"]}, "legend": {"title": null, "orient": "none", "legendX": 717, "legendY": 244, "symbolType": "M-2,0H2", "symbolSize": 506, "labelOffset": 21, "rowPadding": 6}},
           "strokeDash": {"field": "series", "type": "nominal", "scale": {"domain": ["random prediction", "random error", "all", "Female", "Male"], "range": [[8.5, 4.5], [2.5, 4], [1, 0], [1, 0], [1, 0]]}, "legend": {"title": null, "orient": "none", "legendX": 717, "legendY": 244, "symbolType": "M-2,0H2", "symbolSize": 506, "labelOffset": 21, "rowPadding": 6}},
           "strokeWidth": {"field": "series", "type": "nominal", "scale": {"domain": ["random prediction", "random error", "all", "Female", "Male"], "range": [2.4, 2.6, 4, 3, 3]}, "legend": {"title": null, "orient": "none", "legendX": 717, "legendY": 244, "symbolType": "M-2,0H2", "symbolSize": 506, "labelOffset": 21, "rowPadding": 6}}
         }},
        {"data": {"name": "notes"}, "transform": [{"filter": "datum.panel === 'SIPP' && datum.row === 0"}],
         "encoding": {"x": {"datum": 1.109, "type": "quantitative", "scale": {"domain": [0, 1.06], "nice": false, "zero": false}, "axis": {"values": [0, 0.25, 0.5, 0.75, 1], "format": ".2~f", "labelExpr": "replace(datum.label, '0.', '.')", "labelOverlap": false, "labelFlush": false, "labelPadding": 4, "title": null}}, "y": {"datum": 0.782, "type": "quantitative", "scale": {"domain": [0.448, 1.004], "nice": false, "zero": false}, "axis": {"values": [0.5, 0.75, 1], "labels": false, "title": null}}},
         "layer": [
           {"mark": {"type": "circle", "size": 90, "opacity": 1}, "encoding": {"color": {"field": "series", "type": "nominal", "scale": {"domain": ["random prediction", "random error", "all", "Female", "Male"], "range": ["#808080", "#808080", "#808080", "#56B4E9", "#D55E00"]}, "legend": null}}},
           {"mark": {"type": "text", "align": "left", "baseline": "middle", "dx": 13, "font": "Liberation Serif", "fontSize": 21, "color": "#000"}, "encoding": {"text": {"field": "share", "type": "quantitative", "format": ".2f"}}}
         ]},
        {"data": {"name": "notes"}, "transform": [{"filter": "datum.panel === 'SIPP' && datum.row === 1"}],
         "encoding": {"x": {"datum": 1.109, "type": "quantitative", "scale": {"domain": [0, 1.06], "nice": false, "zero": false}, "axis": {"values": [0, 0.25, 0.5, 0.75, 1], "format": ".2~f", "labelExpr": "replace(datum.label, '0.', '.')", "labelOverlap": false, "labelFlush": false, "labelPadding": 4, "title": null}}, "y": {"datum": 0.6855, "type": "quantitative", "scale": {"domain": [0.448, 1.004], "nice": false, "zero": false}, "axis": {"values": [0.5, 0.75, 1], "labels": false, "title": null}}},
         "layer": [
           {"mark": {"type": "circle", "size": 90, "opacity": 1}, "encoding": {"color": {"field": "series", "type": "nominal", "scale": {"domain": ["random prediction", "random error", "all", "Female", "Male"], "range": ["#808080", "#808080", "#808080", "#56B4E9", "#D55E00"]}, "legend": null}}},
           {"mark": {"type": "text", "align": "left", "baseline": "middle", "dx": 13, "font": "Liberation Serif", "fontSize": 21, "color": "#000"}, "encoding": {"text": {"field": "share", "type": "quantitative", "format": ".2f"}}}
         ]}
      ]
    },
    {
      "title": "TravelTime", "width": 151, "height": 138,
      "data": {"name": "curves"},
      "layer": [
        {"transform": [{"filter": "datum.panel === 'TravelTime' && datum.series === 'random error'"}],
         "mark": {"type": "line", "clip": true, "color": "#D55E00", "strokeDash": [3, 4.5], "strokeWidth": 3},
         "encoding": {
           "x": {"field": "x", "type": "quantitative", "scale": {"domain": [0, 1.06], "nice": false, "zero": false}, "axis": {"values": [0, 0.25, 0.5, 0.75, 1], "format": ".2~f", "labelExpr": "replace(datum.label, '0.', '.')", "labelOverlap": false, "labelFlush": false, "labelPadding": 4, "title": "fraction of model pairs", "titlePadding": 8}},
           "y": {"field": "y", "type": "quantitative", "scale": {"domain": [0.448, 1.004], "nice": false, "zero": false}, "axis": {"values": [0.5, 0.75, 1], "format": ".2~f", "labelExpr": "replace(datum.label, '0.', '.')", "labelOverlap": false, "labelPadding": 9, "title": "agreement", "titlePadding": 12}}
         }},
        {"transform": [{"filter": "datum.panel === 'TravelTime' && datum.series !== 'random error'"}],
         "mark": {"type": "line", "clip": true},
         "encoding": {
           "x": {"field": "x", "type": "quantitative", "scale": {"domain": [0, 1.06], "nice": false, "zero": false}, "axis": {"values": [0, 0.25, 0.5, 0.75, 1], "format": ".2~f", "labelExpr": "replace(datum.label, '0.', '.')", "labelOverlap": false, "labelFlush": false, "labelPadding": 4, "title": "fraction of model pairs", "titlePadding": 8}},
           "y": {"field": "y", "type": "quantitative", "scale": {"domain": [0.448, 1.004], "nice": false, "zero": false}, "axis": {"values": [0.5, 0.75, 1], "format": ".2~f", "labelExpr": "replace(datum.label, '0.', '.')", "labelOverlap": false, "labelPadding": 9, "title": "agreement", "titlePadding": 12}},
           "color": {"field": "series", "type": "nominal", "scale": {"domain": ["random prediction", "random error", "all", "Female", "Male"], "range": ["#808080", "#808080", "#808080", "#56B4E9", "#D55E00"]}, "legend": {"title": null, "orient": "none", "legendX": 717, "legendY": 244, "symbolType": "M-2,0H2", "symbolSize": 506, "labelOffset": 21, "rowPadding": 6}},
           "strokeDash": {"field": "series", "type": "nominal", "scale": {"domain": ["random prediction", "random error", "all", "Female", "Male"], "range": [[8.5, 4.5], [2.5, 4], [1, 0], [1, 0], [1, 0]]}, "legend": {"title": null, "orient": "none", "legendX": 717, "legendY": 244, "symbolType": "M-2,0H2", "symbolSize": 506, "labelOffset": 21, "rowPadding": 6}},
           "strokeWidth": {"field": "series", "type": "nominal", "scale": {"domain": ["random prediction", "random error", "all", "Female", "Male"], "range": [2.4, 2.6, 4, 3, 3]}, "legend": {"title": null, "orient": "none", "legendX": 717, "legendY": 244, "symbolType": "M-2,0H2", "symbolSize": 506, "labelOffset": 21, "rowPadding": 6}}
         }},
        {"data": {"name": "notes"}, "transform": [{"filter": "datum.panel === 'TravelTime' && datum.row === 0"}],
         "encoding": {"x": {"datum": 1.109, "type": "quantitative", "scale": {"domain": [0, 1.06], "nice": false, "zero": false}, "axis": {"values": [0, 0.25, 0.5, 0.75, 1], "format": ".2~f", "labelExpr": "replace(datum.label, '0.', '.')", "labelOverlap": false, "labelFlush": false, "labelPadding": 4, "title": "fraction of model pairs", "titlePadding": 8}}, "y": {"datum": 0.782, "type": "quantitative", "scale": {"domain": [0.448, 1.004], "nice": false, "zero": false}, "axis": {"values": [0.5, 0.75, 1], "format": ".2~f", "labelExpr": "replace(datum.label, '0.', '.')", "labelOverlap": false, "labelPadding": 9, "title": "agreement", "titlePadding": 12}}},
         "layer": [
           {"mark": {"type": "circle", "size": 90, "opacity": 1}, "encoding": {"color": {"field": "series", "type": "nominal", "scale": {"domain": ["random prediction", "random error", "all", "Female", "Male"], "range": ["#808080", "#808080", "#808080", "#56B4E9", "#D55E00"]}, "legend": null}}},
           {"mark": {"type": "text", "align": "left", "baseline": "middle", "dx": 13, "font": "Liberation Serif", "fontSize": 21, "color": "#000"}, "encoding": {"text": {"field": "share", "type": "quantitative", "format": ".2f"}}}
         ]},
        {"data": {"name": "notes"}, "transform": [{"filter": "datum.panel === 'TravelTime' && datum.row === 1"}],
         "encoding": {"x": {"datum": 1.109, "type": "quantitative", "scale": {"domain": [0, 1.06], "nice": false, "zero": false}, "axis": {"values": [0, 0.25, 0.5, 0.75, 1], "format": ".2~f", "labelExpr": "replace(datum.label, '0.', '.')", "labelOverlap": false, "labelFlush": false, "labelPadding": 4, "title": "fraction of model pairs", "titlePadding": 8}}, "y": {"datum": 0.6855, "type": "quantitative", "scale": {"domain": [0.448, 1.004], "nice": false, "zero": false}, "axis": {"values": [0.5, 0.75, 1], "format": ".2~f", "labelExpr": "replace(datum.label, '0.', '.')", "labelOverlap": false, "labelPadding": 9, "title": "agreement", "titlePadding": 12}}},
         "layer": [
           {"mark": {"type": "circle", "size": 90, "opacity": 1}, "encoding": {"color": {"field": "series", "type": "nominal", "scale": {"domain": ["random prediction", "random error", "all", "Female", "Male"], "range": ["#808080", "#808080", "#808080", "#56B4E9", "#D55E00"]}, "legend": null}}},
           {"mark": {"type": "text", "align": "left", "baseline": "middle", "dx": 13, "font": "Liberation Serif", "fontSize": 21, "color": "#000"}, "encoding": {"text": {"field": "share", "type": "quantitative", "format": ".2f"}}}
         ]}
      ]
    },
    {
      "title": "PublicCoverage", "width": 151, "height": 138,
      "data": {"name": "curves"},
      "layer": [
        {"transform": [{"filter": "datum.panel === 'PublicCoverage' && datum.series === 'random error'"}],
         "mark": {"type": "line", "clip": true, "color": "#D55E00", "strokeDash": [3, 4.5], "strokeWidth": 3},
         "encoding": {
           "x": {"field": "x", "type": "quantitative", "scale": {"domain": [0, 1.06], "nice": false, "zero": false}, "axis": {"values": [0, 0.25, 0.5, 0.75, 1], "format": ".2~f", "labelExpr": "replace(datum.label, '0.', '.')", "labelOverlap": false, "labelFlush": false, "labelPadding": 4, "title": null}},
           "y": {"field": "y", "type": "quantitative", "scale": {"domain": [0.448, 1.004], "nice": false, "zero": false}, "axis": {"values": [0.5, 0.75, 1], "labels": false, "title": null}}
         }},
        {"transform": [{"filter": "datum.panel === 'PublicCoverage' && datum.series !== 'random error'"}],
         "mark": {"type": "line", "clip": true},
         "encoding": {
           "x": {"field": "x", "type": "quantitative", "scale": {"domain": [0, 1.06], "nice": false, "zero": false}, "axis": {"values": [0, 0.25, 0.5, 0.75, 1], "format": ".2~f", "labelExpr": "replace(datum.label, '0.', '.')", "labelOverlap": false, "labelFlush": false, "labelPadding": 4, "title": null}},
           "y": {"field": "y", "type": "quantitative", "scale": {"domain": [0.448, 1.004], "nice": false, "zero": false}, "axis": {"values": [0.5, 0.75, 1], "labels": false, "title": null}},
           "color": {"field": "series", "type": "nominal", "scale": {"domain": ["random prediction", "random error", "all", "Female", "Male"], "range": ["#808080", "#808080", "#808080", "#56B4E9", "#D55E00"]}, "legend": {"title": null, "orient": "none", "legendX": 717, "legendY": 244, "symbolType": "M-2,0H2", "symbolSize": 506, "labelOffset": 21, "rowPadding": 6}},
           "strokeDash": {"field": "series", "type": "nominal", "scale": {"domain": ["random prediction", "random error", "all", "Female", "Male"], "range": [[8.5, 4.5], [2.5, 4], [1, 0], [1, 0], [1, 0]]}, "legend": {"title": null, "orient": "none", "legendX": 717, "legendY": 244, "symbolType": "M-2,0H2", "symbolSize": 506, "labelOffset": 21, "rowPadding": 6}},
           "strokeWidth": {"field": "series", "type": "nominal", "scale": {"domain": ["random prediction", "random error", "all", "Female", "Male"], "range": [2.4, 2.6, 4, 3, 3]}, "legend": {"title": null, "orient": "none", "legendX": 717, "legendY": 244, "symbolType": "M-2,0H2", "symbolSize": 506, "labelOffset": 21, "rowPadding": 6}}
         }},
        {"data": {"name": "notes"}, "transform": [{"filter": "datum.panel === 'PublicCoverage' && datum.row === 0"}],
         "encoding": {"x": {"datum": 1.109, "type": "quantitative", "scale": {"domain": [0, 1.06], "nice": false, "zero": false}, "axis": {"values": [0, 0.25, 0.5, 0.75, 1], "format": ".2~f", "labelExpr": "replace(datum.label, '0.', '.')", "labelOverlap": false, "labelFlush": false, "labelPadding": 4, "title": null}}, "y": {"datum": 0.782, "type": "quantitative", "scale": {"domain": [0.448, 1.004], "nice": false, "zero": false}, "axis": {"values": [0.5, 0.75, 1], "labels": false, "title": null}}},
         "layer": [
           {"mark": {"type": "circle", "size": 90, "opacity": 1}, "encoding": {"color": {"field": "series", "type": "nominal", "scale": {"domain": ["random prediction", "random error", "all", "Female", "Male"], "range": ["#808080", "#808080", "#808080", "#56B4E9", "#D55E00"]}, "legend": null}}},
           {"mark": {"type": "text", "align": "left", "baseline": "middle", "dx": 13, "font": "Liberation Serif", "fontSize": 21, "color": "#000"}, "encoding": {"text": {"field": "share", "type": "quantitative", "format": ".2f"}}}
         ]},
        {"data": {"name": "notes"}, "transform": [{"filter": "datum.panel === 'PublicCoverage' && datum.row === 1"}],
         "encoding": {"x": {"datum": 1.109, "type": "quantitative", "scale": {"domain": [0, 1.06], "nice": false, "zero": false}, "axis": {"values": [0, 0.25, 0.5, 0.75, 1], "format": ".2~f", "labelExpr": "replace(datum.label, '0.', '.')", "labelOverlap": false, "labelFlush": false, "labelPadding": 4, "title": null}}, "y": {"datum": 0.6855, "type": "quantitative", "scale": {"domain": [0.448, 1.004], "nice": false, "zero": false}, "axis": {"values": [0.5, 0.75, 1], "labels": false, "title": null}}},
         "layer": [
           {"mark": {"type": "circle", "size": 90, "opacity": 1}, "encoding": {"color": {"field": "series", "type": "nominal", "scale": {"domain": ["random prediction", "random error", "all", "Female", "Male"], "range": ["#808080", "#808080", "#808080", "#56B4E9", "#D55E00"]}, "legend": null}}},
           {"mark": {"type": "text", "align": "left", "baseline": "middle", "dx": 13, "font": "Liberation Serif", "fontSize": 21, "color": "#000"}, "encoding": {"text": {"field": "share", "type": "quantitative", "format": ".2f"}}}
         ]}
      ]
    },
    {
      "title": "Mobility", "width": 151, "height": 138,
      "data": {"name": "curves"},
      "layer": [
        {"transform": [{"filter": "datum.panel === 'Mobility' && datum.series === 'random error'"}],
         "mark": {"type": "line", "clip": true, "color": "#D55E00", "strokeDash": [3, 4.5], "strokeWidth": 3},
         "encoding": {
           "x": {"field": "x", "type": "quantitative", "scale": {"domain": [0, 1.06], "nice": false, "zero": false}, "axis": {"values": [0, 0.25, 0.5, 0.75, 1], "format": ".2~f", "labelExpr": "replace(datum.label, '0.', '.')", "labelOverlap": false, "labelFlush": false, "labelPadding": 4, "title": null}},
           "y": {"field": "y", "type": "quantitative", "scale": {"domain": [0.448, 1.004], "nice": false, "zero": false}, "axis": {"values": [0.5, 0.75, 1], "labels": false, "title": null}}
         }},
        {"transform": [{"filter": "datum.panel === 'Mobility' && datum.series !== 'random error'"}],
         "mark": {"type": "line", "clip": true},
         "encoding": {
           "x": {"field": "x", "type": "quantitative", "scale": {"domain": [0, 1.06], "nice": false, "zero": false}, "axis": {"values": [0, 0.25, 0.5, 0.75, 1], "format": ".2~f", "labelExpr": "replace(datum.label, '0.', '.')", "labelOverlap": false, "labelFlush": false, "labelPadding": 4, "title": null}},
           "y": {"field": "y", "type": "quantitative", "scale": {"domain": [0.448, 1.004], "nice": false, "zero": false}, "axis": {"values": [0.5, 0.75, 1], "labels": false, "title": null}},
           "color": {"field": "series", "type": "nominal", "scale": {"domain": ["random prediction", "random error", "all", "Female", "Male"], "range": ["#808080", "#808080", "#808080", "#56B4E9", "#D55E00"]}, "legend": {"title": null, "orient": "none", "legendX": 717, "legendY": 244, "symbolType": "M-2,0H2", "symbolSize": 506, "labelOffset": 21, "rowPadding": 6}},
           "strokeDash": {"field": "series", "type": "nominal", "scale": {"domain": ["random prediction", "random error", "all", "Female", "Male"], "range": [[8.5, 4.5], [2.5, 4], [1, 0], [1, 0], [1, 0]]}, "legend": {"title": null, "orient": "none", "legendX": 717, "legendY": 244, "symbolType": "M-2,0H2", "symbolSize": 506, "labelOffset": 21, "rowPadding": 6}},
           "strokeWidth": {"field": "series", "type": "nominal", "scale": {"domain": ["random prediction", "random error", "all", "Female", "Male"], "range": [2.4, 2.6, 4, 3, 3]}, "legend": {"title": null, "orient": "none", "legendX": 717, "legendY": 244, "symbolType": "M-2,0H2", "symbolSize": 506, "labelOffset": 21, "rowPadding": 6}}
         }},
        {"data": {"name": "notes"}, "transform": [{"filter": "datum.panel === 'Mobility' && datum.row === 0"}],
         "encoding": {"x": {"datum": 1.109, "type": "quantitative", "scale": {"domain": [0, 1.06], "nice": false, "zero": false}, "axis": {"values": [0, 0.25, 0.5, 0.75, 1], "format": ".2~f", "labelExpr": "replace(datum.label, '0.', '.')", "labelOverlap": false, "labelFlush": false, "labelPadding": 4, "title": null}}, "y": {"datum": 0.782, "type": "quantitative", "scale": {"domain": [0.448, 1.004], "nice": false, "zero": false}, "axis": {"values": [0.5, 0.75, 1], "labels": false, "title": null}}},
         "layer": [
           {"mark": {"type": "circle", "size": 90, "opacity": 1}, "encoding": {"color": {"field": "series", "type": "nominal", "scale": {"domain": ["random prediction", "random error", "all", "Female", "Male"], "range": ["#808080", "#808080", "#808080", "#56B4E9", "#D55E00"]}, "legend": null}}},
           {"mark": {"type": "text", "align": "left", "baseline": "middle", "dx": 13, "font": "Liberation Serif", "fontSize": 21, "color": "#000"}, "encoding": {"text": {"field": "share", "type": "quantitative", "format": ".2f"}}}
         ]},
        {"data": {"name": "notes"}, "transform": [{"filter": "datum.panel === 'Mobility' && datum.row === 1"}],
         "encoding": {"x": {"datum": 1.109, "type": "quantitative", "scale": {"domain": [0, 1.06], "nice": false, "zero": false}, "axis": {"values": [0, 0.25, 0.5, 0.75, 1], "format": ".2~f", "labelExpr": "replace(datum.label, '0.', '.')", "labelOverlap": false, "labelFlush": false, "labelPadding": 4, "title": null}}, "y": {"datum": 0.6855, "type": "quantitative", "scale": {"domain": [0.448, 1.004], "nice": false, "zero": false}, "axis": {"values": [0.5, 0.75, 1], "labels": false, "title": null}}},
         "layer": [
           {"mark": {"type": "circle", "size": 90, "opacity": 1}, "encoding": {"color": {"field": "series", "type": "nominal", "scale": {"domain": ["random prediction", "random error", "all", "Female", "Male"], "range": ["#808080", "#808080", "#808080", "#56B4E9", "#D55E00"]}, "legend": null}}},
           {"mark": {"type": "text", "align": "left", "baseline": "middle", "dx": 13, "font": "Liberation Serif", "fontSize": 21, "color": "#000"}, "encoding": {"text": {"field": "share", "type": "quantitative", "format": ".2f"}}}
         ]}
      ]
    }
  ]
}
